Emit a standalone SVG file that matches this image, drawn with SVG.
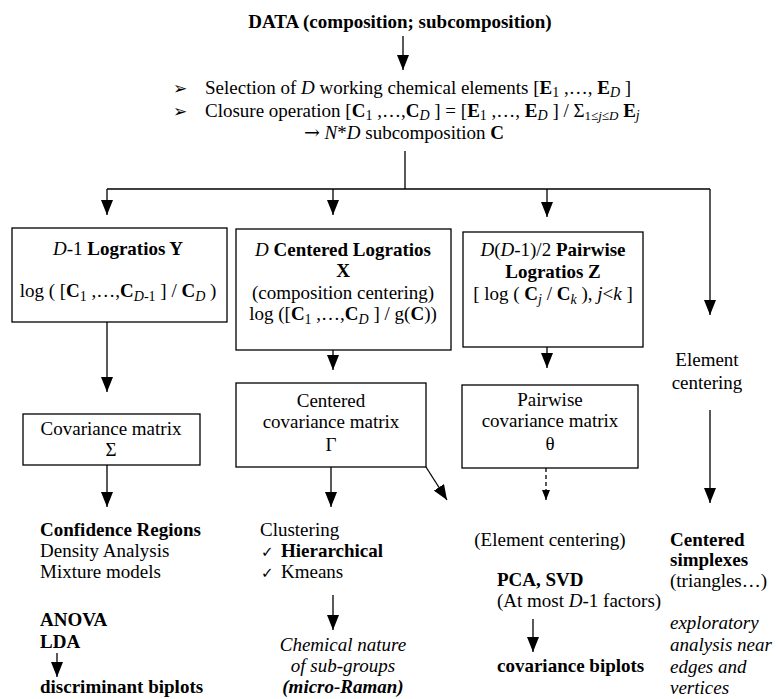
<svg xmlns="http://www.w3.org/2000/svg" width="780" height="699" viewBox="0 0 780 699">
<defs>
<marker id="ah" markerUnits="userSpaceOnUse" markerWidth="15" markerHeight="12" refX="15" refY="6" orient="auto"><path d="M0,0 L15,6 L0,12 z" fill="#000"/></marker>
<marker id="ahs" markerUnits="userSpaceOnUse" markerWidth="10" markerHeight="8" refX="10" refY="4" orient="auto"><path d="M0,0 L10,4 L0,8 z" fill="#000"/></marker>
</defs>
<style>
text{font-family:"Liberation Serif","Times New Roman",serif;font-size:19px;fill:#000}
.b{font-weight:bold}
.i{font-style:italic}
.s{font-size:14px}
.ss{font-size:13px}
.m{text-anchor:middle}
.sym{font-family:"DejaVu Sans",sans-serif;font-size:15px}
.bul{font-family:"DejaVu Sans",sans-serif;font-size:17px}
.arr{font-family:"DejaVu Serif",serif}
.box{fill:#fff;stroke:#000;stroke-width:1.3}
.c{fill:none;stroke:#000;stroke-width:1.3}
.d{fill:none;stroke:#000;stroke-width:1.3;stroke-dasharray:4 3}
</style>
<rect width="780" height="699" fill="#fff"/>

<g id="connectors">
<line class="c" x1="403" y1="36" x2="403" y2="70" marker-end="url(#ah)"/>
<polyline class="c" points="405,151 405,189"/>
<polyline class="c" points="107,189 710,189"/>
<line class="c" x1="107" y1="189" x2="107" y2="215" marker-end="url(#ah)"/>
<line class="c" x1="333" y1="189" x2="333" y2="215" marker-end="url(#ah)"/>
<line class="c" x1="547" y1="189" x2="547" y2="217" marker-end="url(#ah)"/>
<line class="c" x1="710" y1="189" x2="710" y2="315" marker-end="url(#ah)"/>
<line class="c" x1="107" y1="322" x2="107" y2="392" marker-end="url(#ah)"/>
<line class="c" x1="333" y1="350" x2="333" y2="370" marker-end="url(#ah)"/>
<line class="c" x1="547" y1="347" x2="547" y2="368" marker-end="url(#ah)"/>
<line class="c" x1="710" y1="410" x2="710" y2="503" marker-end="url(#ah)"/>
<line class="c" x1="107" y1="465" x2="107" y2="507" marker-end="url(#ah)"/>
<line class="c" x1="331" y1="467" x2="331" y2="507" marker-end="url(#ah)"/>
<line class="c" x1="426" y1="467" x2="447" y2="500" marker-end="url(#ah)"/>
<line class="d" x1="546" y1="468" x2="546" y2="500" marker-end="url(#ahs)"/>
<line class="c" x1="333" y1="595" x2="333" y2="630" marker-end="url(#ah)"/>
<line class="c" x1="57" y1="653" x2="57" y2="677" marker-end="url(#ah)"/>
<line class="c" x1="533" y1="619" x2="533" y2="652" marker-end="url(#ah)"/>
</g>

<g id="data">
<text class="b m" x="400" y="28">DATA (composition; subcomposition)</text>
</g>

<g id="selection">
<text class="bul" x="173" y="94">➢</text>
<text x="205" y="94">Selection of <tspan class="i">D</tspan> working chemical elements [<tspan class="b">E</tspan><tspan class="s" dy="3">1</tspan><tspan dy="-3"> ,…, </tspan><tspan class="b">E</tspan><tspan class="s i" dy="3">D</tspan><tspan dy="-3"> ]</tspan></text>
<text class="bul" x="173" y="117">➢</text>
<text x="205" y="117">Closure operation [<tspan class="b">C</tspan><tspan class="s" dy="3">1</tspan><tspan dy="-3"> ,…,</tspan><tspan class="b">C</tspan><tspan class="s i" dy="3">D</tspan><tspan dy="-3"> ] = [</tspan><tspan class="b">E</tspan><tspan class="s" dy="3">1</tspan><tspan dy="-3"> ,…, </tspan><tspan class="b">E</tspan><tspan class="s i" dy="3">D</tspan><tspan dy="-3"> ] / Σ</tspan><tspan class="ss" dy="3">1≤</tspan><tspan class="ss i">j</tspan><tspan class="ss">≤</tspan><tspan class="ss i">D</tspan><tspan dy="-3"> </tspan><tspan class="b">E</tspan><tspan class="s i" dy="3">j</tspan></text>
<text class="m" x="404" y="139"><tspan class="arr">→</tspan> <tspan class="i">N</tspan>*<tspan class="i">D</tspan> subcomposition <tspan class="b">C</tspan></text>
</g>

<g id="node-Y">
<rect class="box" x="12" y="228" width="215" height="94"/>
<text class="m" x="118" y="255"><tspan class="i">D</tspan>-1 <tspan class="b">Logratios Y</tspan></text>
<text class="m" x="118" y="297">log ( [<tspan class="b">C</tspan><tspan class="s" dy="4">1</tspan><tspan dy="-4"> ,…,</tspan><tspan class="b">C</tspan><tspan class="s" dy="4"><tspan class="i">D</tspan>-1</tspan><tspan dy="-4"> ] / </tspan><tspan class="b">C</tspan><tspan class="s i" dy="4">D</tspan><tspan dy="-4"> )</tspan></text>
</g>

<g id="node-X">
<rect class="box" x="236" y="229" width="215" height="121"/>
<text class="m" x="343" y="256"><tspan class="i">D</tspan> <tspan class="b">Centered Logratios</tspan></text>
<text class="m b" x="343" y="277">X</text>
<text class="m" x="343" y="299">(composition centering)</text>
<text class="m" x="343" y="320">log ([<tspan class="b">C</tspan><tspan class="s" dy="4">1</tspan><tspan dy="-4"> ,…,</tspan><tspan class="b">C</tspan><tspan class="s i" dy="4">D</tspan><tspan dy="-4"> ] / g(</tspan><tspan class="b">C</tspan>))</text>
</g>

<g id="node-Z">
<rect class="box" x="463" y="232" width="180" height="115"/>
<text class="m" x="553" y="256"><tspan class="i">D</tspan>(<tspan class="i">D</tspan>-1)/2 <tspan class="b">Pairwise</tspan></text>
<text class="m b" x="553" y="278">Logratios Z</text>
<text class="m" x="553" y="300">[ log ( <tspan class="b">C</tspan><tspan class="s i" dy="4">j</tspan><tspan dy="-4"> / </tspan><tspan class="b">C</tspan><tspan class="s i" dy="4">k</tspan><tspan dy="-4"> ), </tspan><tspan class="i">j</tspan>&lt;<tspan class="i">k</tspan> ]</text>
</g>

<g id="element-centering">
<text class="m" x="707" y="366">Element</text>
<text class="m" x="707" y="389">centering</text>
</g>

<g id="node-Sigma">
<rect class="box" x="23" y="414" width="177" height="51"/>
<text class="m" x="111" y="435">Covariance matrix</text>
<text class="m" x="111" y="456">Σ</text>
</g>

<g id="node-Gamma">
<rect class="box" x="236" y="383" width="190" height="84"/>
<text class="m" x="331" y="407">Centered</text>
<text class="m" x="331" y="428">covariance matrix</text>
<text class="m" x="331" y="451">Γ</text>
</g>

<g id="node-Theta">
<rect class="box" x="462" y="385" width="176" height="83"/>
<text class="m" x="550" y="406">Pairwise</text>
<text class="m" x="550" y="427">covariance matrix</text>
<text class="m" x="550" y="450">θ</text>
</g>

<g id="out-Y">
<text class="b" x="40" y="536">Confidence Regions</text>
<text x="40" y="557">Density Analysis</text>
<text x="40" y="578">Mixture models</text>
<text class="b" x="40" y="626">ANOVA</text>
<text class="b" x="40" y="648">LDA</text>
<text class="b" x="40" y="693">discriminant biplots</text>
</g>

<g id="out-X">
<text x="260" y="536">Clustering</text>
<text class="sym" x="261" y="557">✓</text>
<text class="b" x="281" y="557">Hierarchical</text>
<text class="sym" x="261" y="578">✓</text>
<text x="281" y="578">Kmeans</text>
<text class="m i" x="343" y="651">Chemical nature</text>
<text class="m i" x="343" y="672">of sub-groups</text>
<text class="m i b" x="343" y="693">(micro-Raman)</text>
</g>

<g id="out-Z">
<text class="m" x="550" y="546">(Element centering)</text>
<text class="b" x="497" y="586">PCA, SVD</text>
<text x="497" y="607">(At most <tspan class="i">D</tspan>-1 factors)</text>
<text class="b" x="497" y="672">covariance biplots</text>
</g>

<g id="out-E">
<text class="b" x="670" y="546">Centered</text>
<text class="b" x="670" y="566">simplexes</text>
<text x="670" y="587">(triangles…)</text>
<text class="i" x="670" y="629">exploratory</text>
<text class="i" x="670" y="651">analysis near</text>
<text class="i" x="670" y="673">edges and</text>
<text class="i" x="670" y="694">vertices</text>
</g>
</svg>
